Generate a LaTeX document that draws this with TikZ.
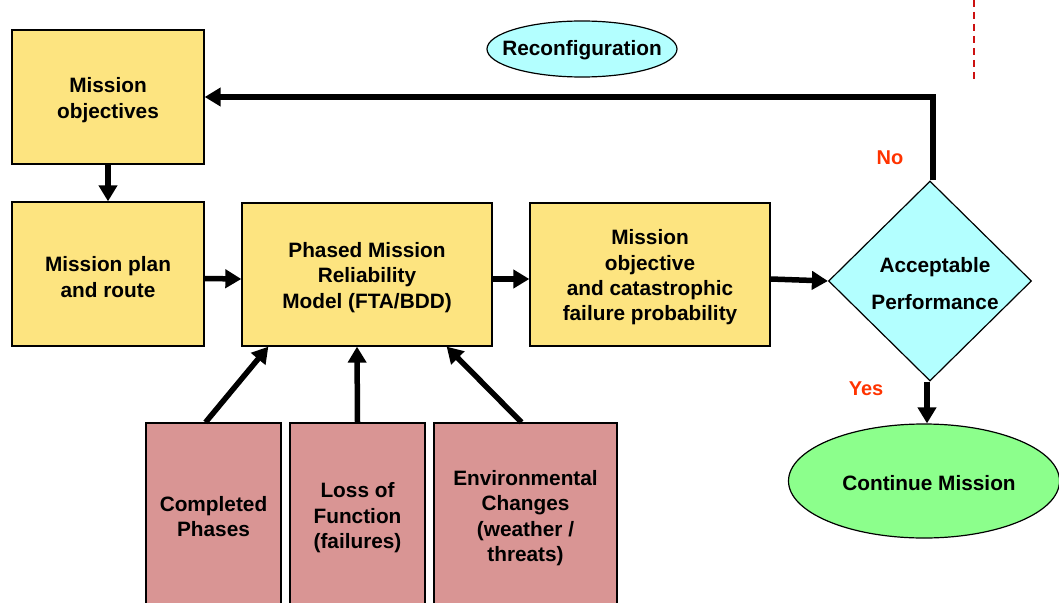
\documentclass[tikz,border=0pt]{standalone}
\usepackage{fontspec}
\setmainfont{Liberation Sans}
\usetikzlibrary{arrows.meta,shapes.geometric,calc}
\definecolor{boxyellow}{HTML}{FDE480}
\definecolor{boxpink}{HTML}{D99594}
\definecolor{dcyan}{HTML}{B3FFFF}
\definecolor{egreen}{HTML}{8CFF8C}
\definecolor{lblred}{HTML}{FF3300}
\definecolor{dashred}{HTML}{CC1111}
\begin{document}
\begin{tikzpicture}[x=1pt,y=-1pt,
  font=\fontsize{20.8}{25.4}\selectfont\bfseries,
  basebox/.style={draw=black,line width=1.3pt,inner sep=0pt},
  ybox/.style={basebox,fill=boxyellow},
  pbox/.style={basebox,fill=boxpink},
  txt/.style={align=center,inner sep=0pt},
  arr/.style={line width=5.5pt,-{Triangle[length=16pt,width=18pt]}},
  lbl/.style={text=lblred,font=\fontsize{20}{24}\selectfont\bfseries}]
\useasboundingbox (0,0) rectangle (1059,602);
\clip (0,0) rectangle (1059,602);

% boxes
\node[ybox,minimum width=192pt,minimum height=134pt] (mo) at (108,97) {};
\node[ybox,minimum width=192pt,minimum height=144pt] (mp) at (108,274) {};
\node[ybox,minimum width=250pt,minimum height=143pt] (pm) at (367,274.5) {};
\node[ybox,minimum width=240pt,minimum height=143pt] (cf) at (650,274.5) {};
\node[draw=black,line width=1.2pt,fill=dcyan,shape=diamond,inner sep=0pt,
      minimum width=203pt,minimum height=200pt] (dec) at (930,281) {};
\node[draw=black,line width=1.2pt,fill=egreen,ellipse,inner sep=0pt,
      minimum width=271pt,minimum height=114pt] (cont) at (924,481) {};
\node[draw=black,line width=1.2pt,fill=dcyan,ellipse,inner sep=0pt,
      minimum width=190pt,minimum height=56pt] (rec) at (582,49) {};
\node[pbox,minimum width=135pt,minimum height=190pt] (cp) at (213.5,518) {};
\node[pbox,minimum width=135pt,minimum height=190pt] (lf) at (357.5,518) {};
\node[pbox,minimum width=183pt,minimum height=190pt] (ec) at (525.5,518) {};

% texts
\node[txt] (mot) at (108,100) {Mission\\objectives};
\node[txt] (mpt) at (108,277) {Mission plan\\and route};
\node[txt] (pmt) at (367,277.5) {Phased Mission\\Reliability\\Model (FTA/BDD)};
\node[txt] (cft) at (650,277.5) {Mission\\objective\\and catastrophic\\failure probability};
\node[txt,font=\fontsize{20.8}{37}\selectfont\bfseries] (dect) at (935,284) {Acceptable\\Performance};
\node[txt] (contt) at (929,483) {Continue Mission};
\node[txt] (rect) at (582,50.5) {Reconfiguration};
\node[txt] (cpt) at (213.5,516.5) {Completed\\Phases};
\node[txt] (lft) at (357.5,518) {Loss of\\Function\\(failures)};
\node[txt] (ect) at (525.5,518) {Environmental\\Changes\\(weather /\\threats)};

\node[lbl] (no) at (890,158) {No};
\node[lbl] (yes) at (866,389) {Yes};

% connectors
\draw[arr] (mo.south) -- (mp.north);
\draw[arr] ([yshift=-4.5pt]mp.east) -- ([yshift=-4.5pt]pm.west);
\draw[arr] ([yshift=-4.5pt]pm.east) -- ([yshift=-4.5pt]cf.west);
\draw[arr] ([yshift=-4.5pt]cf.east) -- (dec.west);
\draw[arr] ([xshift=3pt]dec.north) |- (mo.east);
\draw[arr] ([xshift=-3pt]dec.south) -- ([xshift=-3pt]dec.south |- cont.north);
\draw[arr] ([xshift=-8pt]cp.north) -- ([xshift=27pt]pm.south west);
\draw[arr] (lf.north) -- ([xshift=-10pt]pm.south);
\draw[arr] ([xshift=-4pt]ec.north) -- ([xshift=-46pt]pm.south east);

\coordinate (d1) at (974,0);
\coordinate (d2) at (974,83);
\draw[dashred,line width=1.6pt,dash pattern=on 7pt off 5pt] (d1) -- (d2);
\end{tikzpicture}
\end{document}
